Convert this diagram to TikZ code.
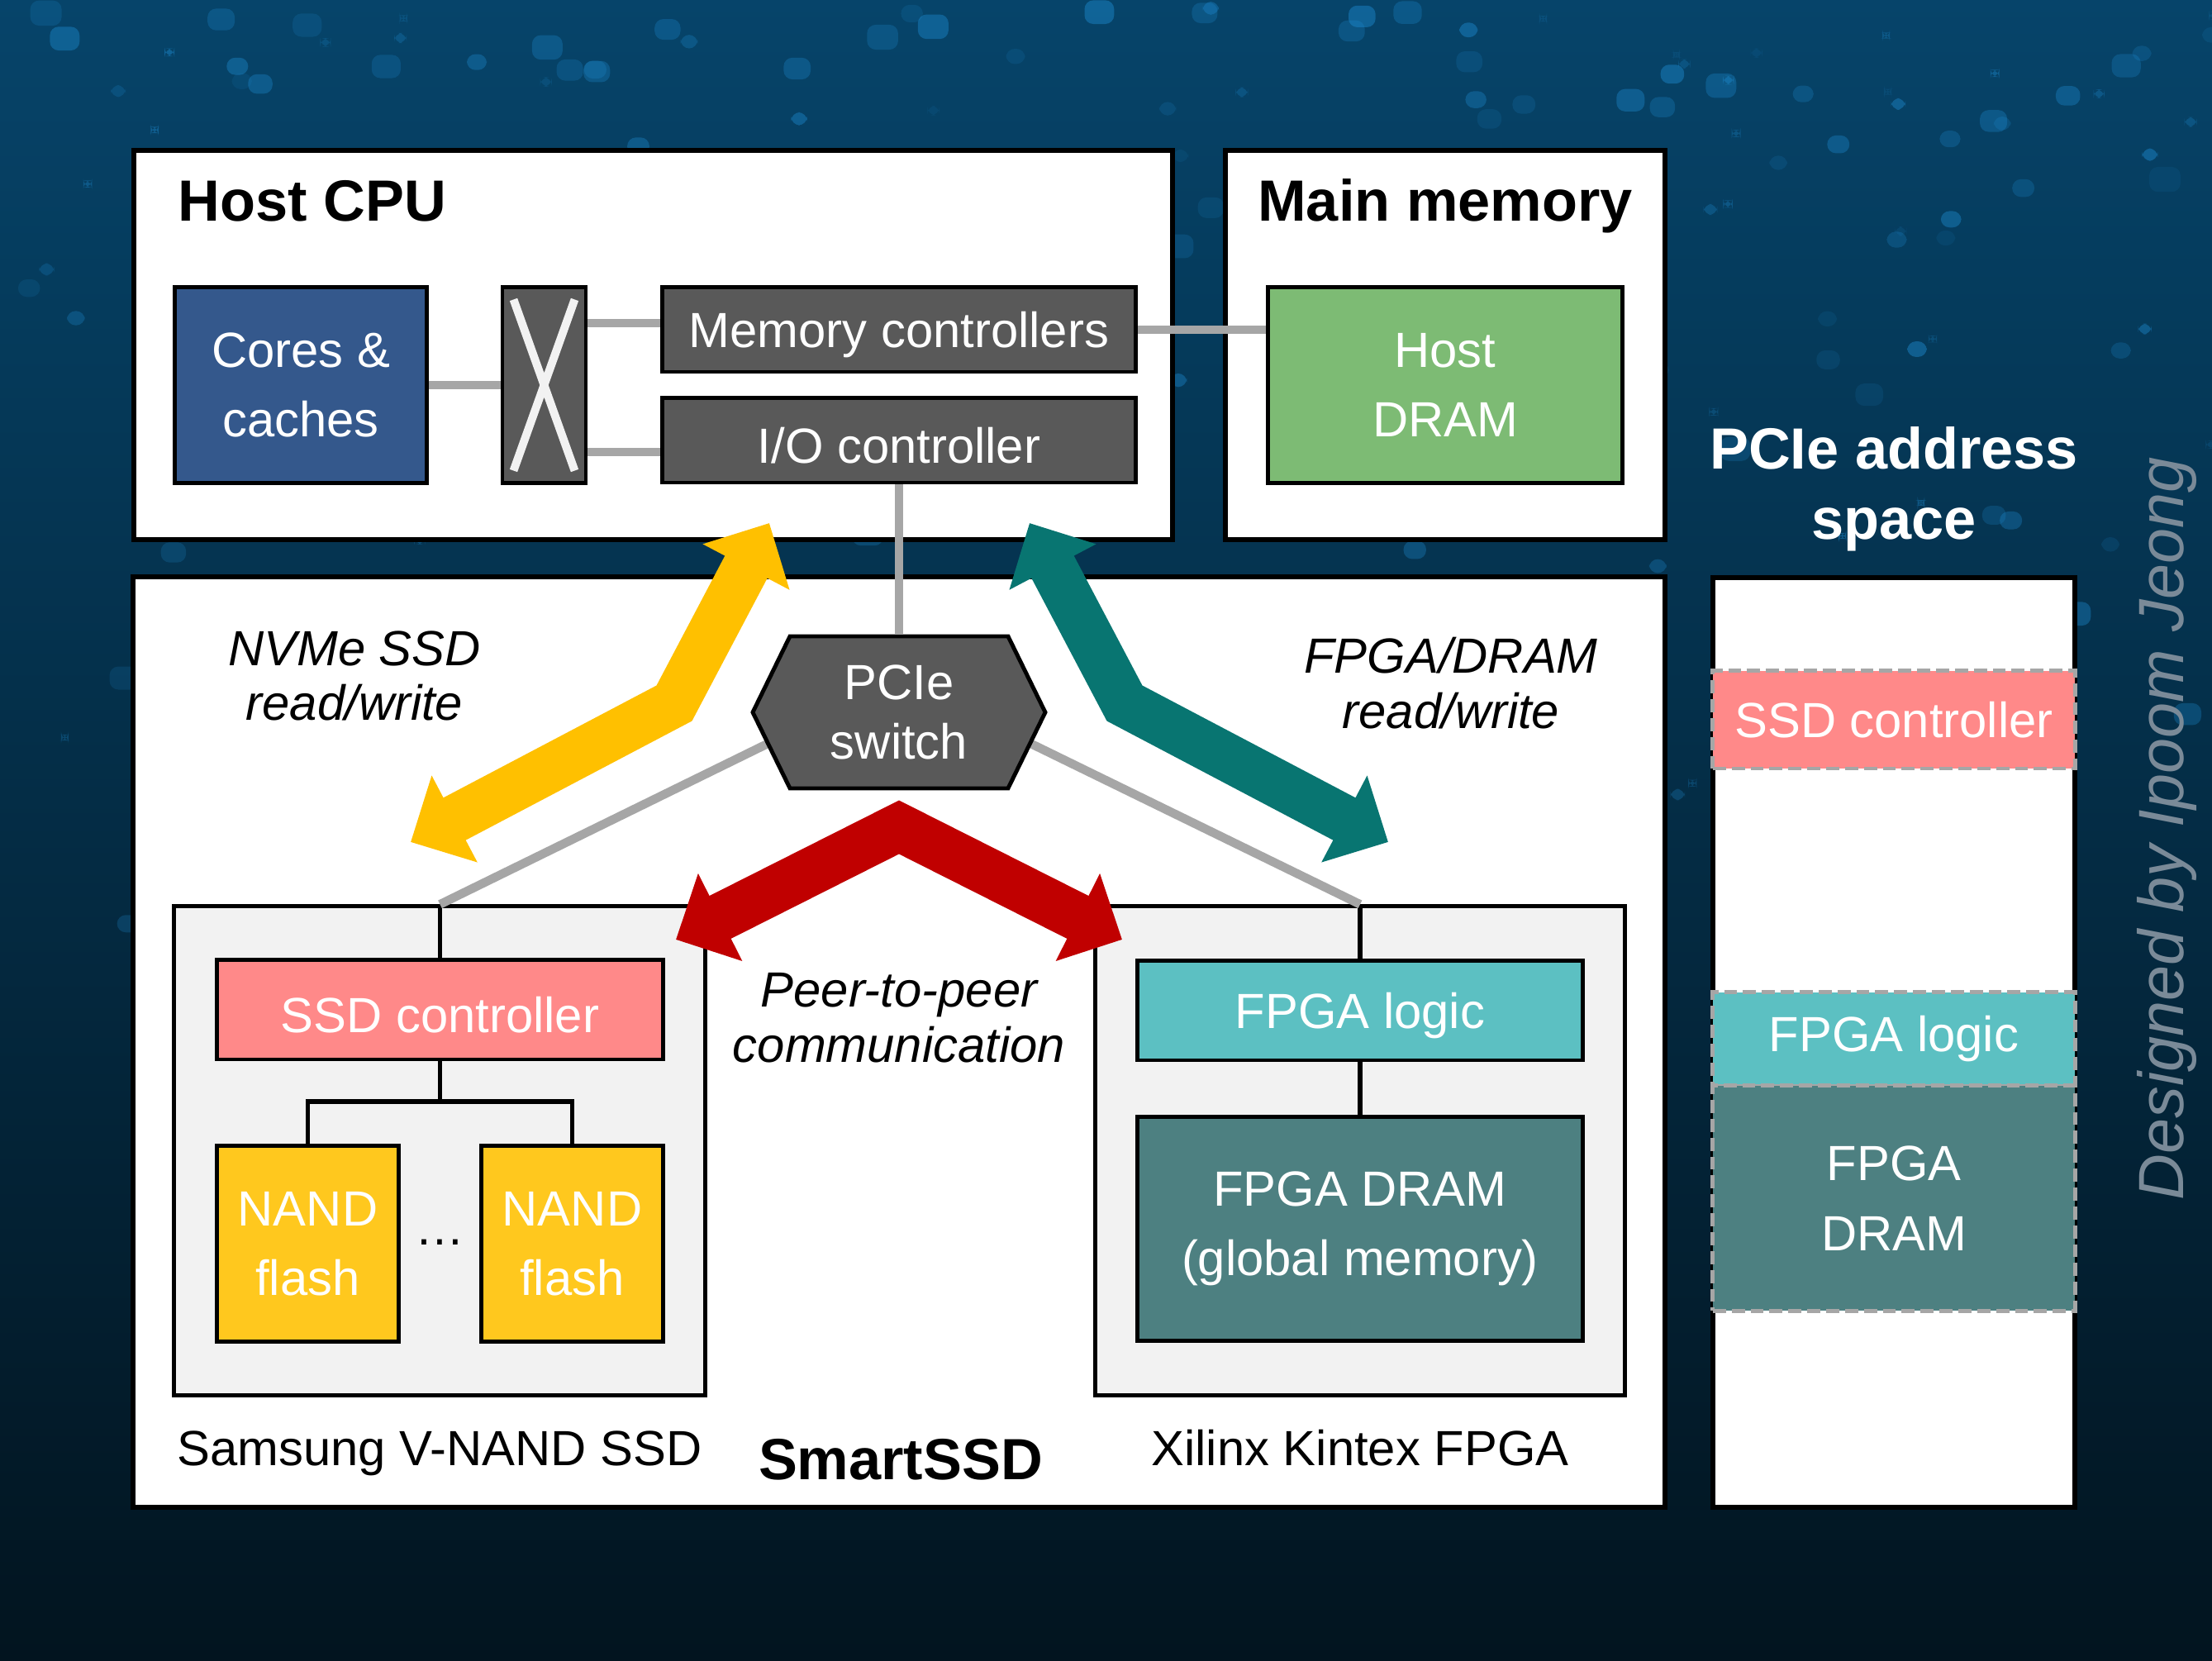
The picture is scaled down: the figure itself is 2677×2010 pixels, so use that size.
\documentclass[tikz,border=0pt]{standalone}
\usepackage{fontspec}
\setmainfont{Liberation Sans}
\usetikzlibrary{arrows.meta, calc}

\definecolor{bgtop}{RGB}{6,68,106}
\definecolor{bgmid}{RGB}{4,46,72}
\definecolor{bgbot}{RGB}{2,20,31}
\definecolor{speck}{RGB}{30,140,210}
\definecolor{coreblue}{RGB}{52,88,140}
\definecolor{ctrlgray}{RGB}{89,89,89}
\definecolor{dramgreen}{RGB}{125,187,116}
\definecolor{ssdpink}{RGB}{255,137,137}
\definecolor{nandyellow}{RGB}{255,200,30}
\definecolor{logicteal}{RGB}{92,192,194}
\definecolor{fdramteal}{RGB}{77,128,129}
\definecolor{grpfill}{RGB}{242,242,242}
\definecolor{linkgray}{RGB}{166,166,166}
\definecolor{nvmeyellow}{RGB}{255,192,0}
\definecolor{fpgateal}{RGB}{8,117,113}
\definecolor{ptopred}{RGB}{192,0,0}
\definecolor{signgray}{RGB}{122,138,152}

\newcommand{\boxfont}{\fontsize{17}{24}\selectfont}
\newcommand{\headfont}{\fontsize{20}{24}\selectfont\bfseries}

\begin{document}
\begin{tikzpicture}[
    x=0.01cm, y=-0.01cm,
    panel/.style={draw=black, line width=1.7pt, fill=white, inner sep=0pt},
    group/.style={draw=black, line width=1.4pt, fill=grpfill, inner sep=0pt},
    block/.style={
      draw=black, line width=1.4pt, text=white, align=center,
      font=\boxfont, inner sep=0pt,
      execute at begin node={\rule{0pt}{15.6pt}},
    },
    band/.style={
      draw=linkgray, line width=1.4pt, dash pattern=on 4.5pt off 2pt,
      text=white, align=center, font=\boxfont, inner sep=0pt,
      minimum width=4.38cm,
    },
    head/.style={font=\headfont, inner sep=0pt},
    plain/.style={font=\boxfont},
    note/.style={font=\fontsize{17}{19}\selectfont\itshape, align=center},
    link/.style={draw=linkgray, line width=3pt},
    wire/.style={draw=black, line width=1.5pt},
    fat/.style={
      line width=16.5pt, line join=miter,
      {Triangle[length=6mm, width=11.5mm]}-{Triangle[length=6mm, width=11.5mm]},
    },
]
% backdrop
\useasboundingbox (0,0) rectangle (2677,2010);
\shade[top color=bgtop, middle color=bgmid, bottom color=bgbot] (0,0) rectangle (2677,2010);
\pgfmathsetseed{42}
\foreach \k in {1,...,220}{
  \pgfmathsetmacro{\bx}{rnd*2677}
  \pgfmathsetmacro{\by}{rnd*rnd*1900}
  \pgfmathsetmacro{\bw}{8+rnd*30}
  \pgfmathsetmacro{\bo}{0.1+0.35*rnd}
  \fill[speck, opacity=\bo, rounded corners=3pt] (\bx,\by) rectangle ++(\bw,0.8*\bw);
}

% outer panels
\node[panel, minimum width=12.57cm, minimum height=4.71cm] (host) at (790.5,417.5) {};
\node[panel, minimum width=5.32cm, minimum height=4.71cm] (mainmem) at (1749,417.5) {};
\node[panel, minimum width=18.52cm, minimum height=11.26cm] (smart) at (1088,1261) {};
\node[panel, minimum width=4.38cm, minimum height=11.25cm] (addr) at (2292,1261.5) {};

\node[head, anchor=base west] (hosttitle) at (215,268) {Host CPU};
\node[head, anchor=base] (memtitle) at (1749,268) {Main memory};
\node[head, text=white, align=center] (addrtitle) at (2292,592) {PCIe address\\space};

% host CPU
\node[block, fill=coreblue, minimum width=3.04cm, minimum height=2.36cm] (cores) at (364,466) {Cores \&\\caches};
\node[block, fill=ctrlgray, minimum width=1.01cm, minimum height=2.36cm] (xbar) at (658.5,466) {};
\draw[white!95!black, line width=2.8pt]
  ($(xbar.north west)+(16,17)$) -- ($(xbar.south east)+(-16,-17)$)
  ($(xbar.north east)+(-16,17)$) -- ($(xbar.south west)+(16,-17)$);
\node[block, fill=ctrlgray, minimum width=5.72cm, minimum height=1.02cm] (memctl) at (1088,399) {Memory controllers};
\node[block, fill=ctrlgray, minimum width=5.72cm, minimum height=1.02cm] (ioctl) at (1088,533) {I/O controller};
\node[block, fill=dramgreen, minimum width=4.28cm, minimum height=2.36cm] (hdram) at (1749,466) {Host\\DRAM};

\draw[link] (cores) -- (xbar);
\draw[link] ($(xbar.east)+(0,-75)$) -- ($(memctl.west |- xbar.east)+(0,-75)$);
\draw[link] ($(xbar.east)+(0,81)$) -- ($(ioctl.west |- xbar.east)+(0,81)$);
\draw[link] (memctl.east) -- (memctl.east -| hdram.west);

% SmartSSD
\node[group, minimum width=6.42cm, minimum height=5.91cm] (ssdgrp) at (532,1392.5) {};
\node[group, minimum width=6.40cm, minimum height=5.91cm] (fpgagrp) at (1646,1392.5) {};
\node[block, fill=ssdpink, minimum width=5.39cm, minimum height=1.2cm] (ssdctl) at (532.5,1222) {SSD controller};
\node[block, fill=nandyellow, minimum width=2.19cm, minimum height=2.36cm] (nand1) at (372.5,1505) {NAND\\flash};
\node[block, fill=nandyellow, minimum width=2.19cm, minimum height=2.36cm] (nand2) at (692.5,1505) {NAND\\flash};
\node[plain, anchor=base] (dots) at (532.5,1507) {…};
\node[block, fill=logicteal, minimum width=5.38cm, minimum height=1.2cm] (fpgalog) at (1646,1223) {FPGA logic};
\node[block, fill=fdramteal, minimum width=5.38cm, minimum height=2.7cm] (fdram) at (1646,1487) {FPGA DRAM\\(global memory)};

\coordinate (fork) at (532.5,1333);
\draw[wire] (ssdctl.south) -- (fork);
\draw[wire] (nand1.north) |- (fork) -| (nand2.north);
\draw[wire] (ssdgrp.north -| ssdctl.north) -- (ssdctl.north);
\draw[wire] (fpgagrp.north -| fpgalog.north) -- (fpgalog.north);
\draw[wire] (fpgalog) -- (fdram);

% PCIe switch
\coordinate (swc) at (1088,862);
\draw[link] ($(swc)+(0,-40)$) -- (ssdgrp.north -| ssdctl.north);
\draw[link] ($(swc)+(0,-40)$) -- (fpgagrp.north -| fpgalog.north);
\filldraw[fill=ctrlgray, draw=black, line width=1.4pt]
  ($(swc)+(-132,-92)$) -- ($(swc)+(132,-92)$) -- ($(swc)+(177,0)$)
  -- ($(swc)+(132,92)$) -- ($(swc)+(-132,92)$) -- ($(swc)+(-177,0)$) -- cycle;
\node[block, draw=none, font=\fontsize{17}{20.5}\selectfont,
      minimum width=2.64cm, minimum height=1.84cm] (sw) at (swc) {PCIe\\switch};
\draw[link] (ioctl.south) -- (sw.north);

% labels
\node[note] (nvme) at (429,818) {NVMe SSD\\read/write};
\node[note] (fpgarw) at (1756,827) {FPGA/DRAM\\read/write};
\node[note] (ptop) at (1088,1232) {Peer-to-peer\\communication};
\node[plain, anchor=base] (ssdname) at (532,1774) {Samsung V-NAND SSD};
\node[head, anchor=base] (smartname) at (1090,1791) {SmartSSD};
\node[plain, anchor=base] (fpganame) at (1646,1774) {Xilinx Kintex FPGA};

% address space
\node[band, fill=ssdpink, minimum height=1.18cm] (bssd) at (2292,871) {SSD controller};
\node[band, fill=logicteal, minimum height=1.13cm] (blogic) at (2292,1257.5) {FPGA logic};
\node[band, fill=fdramteal, minimum height=2.72cm] (bdram) at (2292,1450) {FPGA\\DRAM};

\node[font=\fontsize{22}{26}\selectfont\itshape, text=signgray, rotate=90] (sign) at (2622,1003) {Designed by Ipoom Jeong};

% data paths
\coordinate (ylo) at (497,1019);
\coordinate (ybend) at (816,851);
\coordinate (yhi) at (931,633);
\coordinate (tlo) at (1680,1019);
\coordinate (tbend) at (1361,851);
\coordinate (thi) at (1246,633);
\coordinate (rleft) at (818,1137);
\coordinate (rtop) at (1088,1001);
\coordinate (rright) at (1358,1137);
\draw[fat, nvmeyellow] (ylo) -- (ybend) -- (yhi);
\draw[fat, fpgateal] (tlo) -- (tbend) -- (thi);
\draw[fat, ptopred] (rleft) -- (rtop) -- (rright);

\end{tikzpicture}
\end{document}
